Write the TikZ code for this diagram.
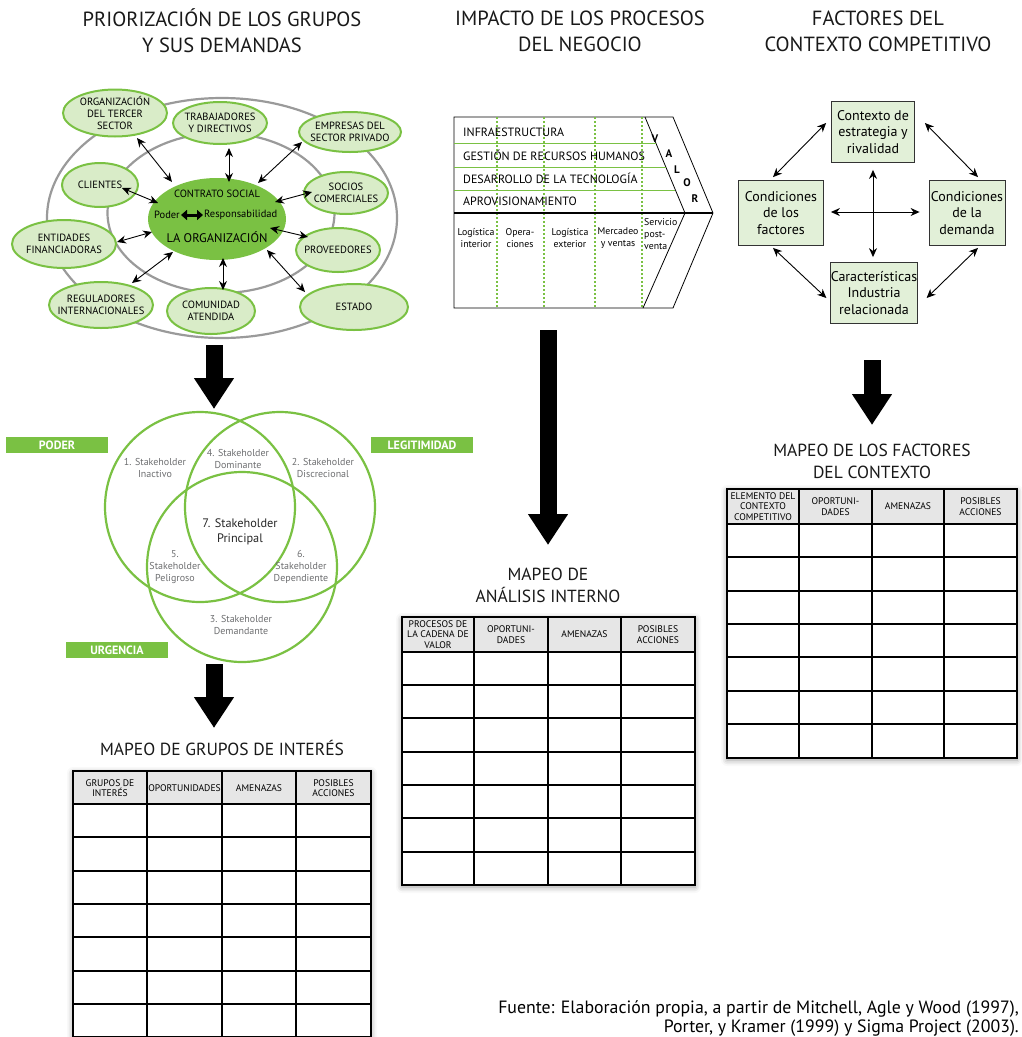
\documentclass[tikz,border=0pt]{standalone}
\usepackage{fontspec}
\setmainfont{PT Sans}
\usetikzlibrary{shapes.geometric,arrows.meta,positioning,calc,shadows.blur}

\definecolor{verde}{HTML}{7AC143}
\definecolor{verdeclaro}{HTML}{D9ECC8}
\definecolor{verdecaja}{HTML}{E2F0D8}
\definecolor{gris}{HTML}{9A9A9A}
\definecolor{griscab}{HTML}{E6E6E6}
\definecolor{textogris}{HTML}{6D6E70}

\begin{document}
\begin{tikzpicture}[x=1pt, y=-1pt,
    heading/.style={align=center, text=black!90, font=\fontsize{20.5}{26}\selectfont},
    maptitle/.style={align=center, text=black!90, font=\fontsize{17.5}{22}\selectfont},
    stake/.style={ellipse, draw=verde, fill=verdeclaro, line width=2pt, inner xsep=-7pt, inner ysep=-3pt, align=center, font=\fontsize{10.5}{12}\selectfont},
    ring/.style={ellipse, draw=gris, line width=2.2pt, inner sep=0pt},
    arrow/.style={<->, >={Stealth[length=9pt,width=8pt]}, line width=0.9pt},
    block/.style={line width=17pt, -{Triangle[width=38pt,length=31pt]}},
    chain/.style={anchor=west, inner sep=0pt, font=\fontsize{12}{12}\selectfont},
    activity/.style={align=center, inner sep=0pt, font=\fontsize{9.8}{12}\selectfont},
    letter/.style={inner sep=0pt, font=\bfseries\fontsize{11}{11}\selectfont},
    factor/.style={rectangle, draw=black!80, fill=verdecaja, thick, align=center, inner sep=0pt, font=\fontsize{14}{16.5}\selectfont},
    venn/.style={circle, draw=verde, line width=2.2pt, minimum size=190pt, inner sep=0pt},
    tag/.style={fill=verde, text=white, font=\bfseries\fontsize{12}{12}\selectfont, minimum width=102pt, minimum height=16pt, inner sep=0pt},
    zone/.style={align=center, text=textogris, font=\fontsize{10}{12.5}\selectfont},
    colhead/.style={align=center, inner sep=0pt, font=\fontsize{9.6}{10.5}\selectfont},
    cell/.style={line width=1.4pt},
    shade/.style={fill=white, blur shadow={shadow xshift=0pt, shadow yshift=-2pt, shadow blur radius=6pt}}
]
\useasboundingbox (0,0) rectangle (1021,1037);

% titulos
\node[heading] (tit1) at (222,31) {PRIORIZACIÓN DE LOS GRUPOS\\Y SUS DEMANDAS};
\node[heading] (tit2) at (580,31) {IMPACTO DE LOS PROCESOS\\DEL NEGOCIO};
\node[heading] (tit3) at (878,31) {FACTORES DEL\\CONTEXTO COMPETITIVO};

% grupos de interes
\node[ring, minimum width=350pt, minimum height=240pt] (outer) at (222,218) {};
\node[ring, minimum width=227pt, minimum height=160pt] (inner) at (221,213) {};

\node[ellipse, fill=verde, minimum width=138pt, minimum height=82pt] (org) at (217,219) {};
\node[font=\fontsize{10.5}{11}\selectfont] (contrato) at (217,194) {CONTRATO SOCIAL};
\node[font=\fontsize{10.5}{11}\selectfont, inner sep=0pt, anchor=east] (pod) at (180,215) {Poder};
\node[font=\fontsize{10.5}{11}\selectfont, inner sep=0pt, anchor=west] (resp) at (204,215) {Responsabilidad};
\node[font=\fontsize{12.5}{13}\selectfont] (laorg) at (217,237) {LA ORGANIZACIÓN};
\draw[line width=3pt, {Triangle[length=6pt,width=10pt]}-{Triangle[length=6pt,width=10pt]}] ([xshift=1pt]pod.east) -- ([xshift=-1pt]resp.west);

\node[stake, minimum width=104pt, minimum height=47pt] (tercer) at (115,113) {ORGANIZACIÓN\\DEL TERCER\\SECTOR};
\node[stake, minimum width=94pt, minimum height=42pt] (trabaj) at (220,123) {TRABAJADORES\\Y DIRECTIVOS};
\node[stake, minimum width=102pt, minimum height=40pt] (empresas) at (350,132) {EMPRESAS DEL\\SECTOR PRIVADO};
\node[stake, minimum width=76pt, minimum height=44pt] (clientes) at (100,185) {CLIENTES};
\node[stake, minimum width=84pt, minimum height=42pt] (socios) at (346,193) {SOCIOS\\COMERCIALES};
\node[stake, minimum width=104pt, minimum height=48pt] (entidades) at (64,244) {ENTIDADES\\FINANCIADORAS};
\node[stake, minimum width=84pt, minimum height=44pt] (proveed) at (338,250) {PROVEEDORES};
\node[stake, minimum width=104pt, minimum height=46pt] (regul) at (101,305) {REGULADORES\\INTERNACIONALES};
\node[stake, minimum width=88pt, minimum height=46pt] (comunidad) at (211,311) {COMUNIDAD\\ATENDIDA};
\node[stake, minimum width=108pt, minimum height=46pt] (estado) at (354,307) {ESTADO};

\draw[arrow] ($(tercer)+(22,25)$) -- ($(org)+(-45,-37)$);
\draw[arrow] ($(trabaj)+(9,25)$) -- ($(org)+(12,-37)$);
\draw[arrow] ($(empresas)+(-48,10)$) -- ($(org)+(41,-36)$);
\draw[arrow] ($(clientes)+(22,3)$) -- ($(org)+(-59,-16)$);
\draw[arrow] ($(socios)+(-34,-1)$) -- ($(org)+(58,-17)$);
\draw[arrow] ($(entidades)+(53,-2)$) -- ($(org)+(-65,13)$);
\draw[arrow] ($(proveed)+(-30,-13)$) -- ($(org)+(53,9)$);
\draw[arrow] ($(regul)+(31,-22)$) -- ($(org)+(-44,33)$);
\draw[arrow] ($(comunidad)+(12,-21)$) -- ($(org)+(6,39)$);
\draw[arrow] ($(estado)+(-49,-15)$) -- ($(org)+(50,31)$);

% cadena de valor
\draw[thick] (454,117) -- (673,117) -- (713,213) -- (673,308) -- (454,308) -- cycle;
\draw[thick] (645,117) -- (685,213) -- (643,308);
\draw[verde] (454,143) -- (656,143);
\draw[verde] (454,167) -- (666,167);
\draw[verde] (454,190) -- (675,190);
\draw[verde, line width=1.6pt, dash pattern=on 1.6pt off 2.4pt] (497,117) -- (497,308);
\draw[verde, line width=1.6pt, dash pattern=on 1.6pt off 2.4pt] (544,117) -- (544,308);
\draw[verde, line width=1.6pt, dash pattern=on 1.6pt off 2.4pt] (595,117) -- (595,308);
\draw[verde, line width=1.6pt, dash pattern=on 1.6pt off 2.4pt] (642,117) -- (642,308);
\draw[line width=2.5pt] (454,213) -- (713,213);

\node[chain] (infra) at (463,132) {INFRAESTRUCTURA};
\node[chain] (rrhh) at (463,155) {GESTIÓN DE RECURSOS HUMANOS};
\node[chain] (tecno) at (463,178) {DESARROLLO DE LA TECNOLOGÍA};
\node[chain] (aprov) at (463,201) {APROVISIONAMIENTO};

\node[letter] (lv) at (655,139) {V};
\node[letter] (la) at (669,154) {A};
\node[letter] (ll) at (677,170) {L};
\node[letter] (lo) at (687,183) {O};
\node[letter] (lr) at (695,199) {R};

\node[activity] (logint) at (476,238) {Logística\\interior};
\node[activity] (oper) at (520,238) {Opera-\\ciones};
\node[activity] (logext) at (570,238) {Logística\\exterior};
\node[activity] (merc) at (618,238) {Mercadeo\\y ventas};
\node[activity, align=left, anchor=north west] (serv) at (644,218) {Servicio\\post-\\venta};

% diamante de porter
\node[factor, minimum width=83pt, minimum height=61pt] (ctx) at (873,132) {Contexto de\\estrategia y\\rivalidad};
\node[factor, minimum width=85pt, minimum height=65pt] (fac) at (781,213) {Condiciones\\de los\\factores};
\node[factor, minimum width=76pt, minimum height=65pt] (dem) at (967,213) {Condiciones\\de la\\demanda};
\node[factor, minimum width=84pt, minimum height=61pt] (ind) at (874,293) {Características\\Industria\\relacionada};

\draw[arrow] ($(ctx.west)+(-5,-9)$) -- ($(fac.north)+(-8,-3)$);
\draw[arrow] ($(ctx.east)+(10,-9)$) -- ($(dem.north)+(11,-3)$);
\draw[arrow] ($(fac.south)+(-8,2)$) -- ($(ind.west)+(-4,5)$);
\draw[arrow] ($(dem.south)+(11,2)$) -- ($(ind.east)+(9,5)$);
\draw[arrow] ($(fac.east)+(7,-1)$) -- ($(dem.west)+(-9,-1)$);
\draw[arrow] ($(ctx.south)+(0,7)$) -- ($(ind.north)+(-1,-5)$);

% flechas grandes
\coordinate (a1s) at (214,345);
\coordinate (a1e) at (214,409);
\coordinate (a2s) at (548,330);
\coordinate (a2e) at (548,545);
\coordinate (a3s) at (872,360);
\coordinate (a3e) at (872,425);
\coordinate (a4s) at (214,664);
\coordinate (a4e) at (214,728);
\draw[block] (a1s) -- (a1e);
\draw[block] (a2s) -- (a2e);
\draw[block] (a3s) -- (a3e);
\draw[block] (a4s) -- (a4e);

% atributos de los stakeholders
\node[venn] (poder) at (200,507) {};
\node[venn] (legit) at (280,507) {};
\node[venn] (urg) at (242,567) {};
\node[tag] (tpoder) at (57,445) {PODER};
\node[tag] (tlegit) at (422,445) {LEGITIMIDAD};
\node[tag] (turg) at (117,650) {URGENCIA};

\node[zone] (z1) at (155,468) {1. Stakeholder\\Inactivo};
\node[zone] (z4) at (238,459) {4. Stakeholder\\Dominante};
\node[zone] (z2) at (323,468) {2. Stakeholder\\Discrecional};
\node[zone, text=black!85, font=\fontsize{12.3}{15}\selectfont] (z7) at (240,532) {7. Stakeholder\\Principal};
\node[zone, font=\fontsize{10}{12}\selectfont] (z5) at (175,567) {5.\\Stakeholder\\Peligroso};
\node[zone, font=\fontsize{10}{12}\selectfont] (z6) at (301,567) {6.\\Stakeholder\\Dependiente};
\node[zone] (z3) at (241,625) {3. Stakeholder\\Demandante};

% tablas de mapeo
\node[maptitle] (map1) at (222,748) {MAPEO DE GRUPOS DE INTERÉS};
\node[maptitle] (map2) at (548,585) {MAPEO DE\\ANÁLISIS INTERNO};
\node[maptitle] (map3) at (872,461) {MAPEO DE LOS FACTORES\\DEL CONTEXTO};

\fill[shade] (73,771) rectangle (371,1037);
\fill[griscab] (73,771) rectangle (371,804);
\foreach \x in {147,222,296} \draw[cell] (\x,771) -- (\x,1037);
\foreach \y in {804,837,871,904,937,971,1004} \draw[cell] (73,\y) -- (371,\y);
\draw[cell] (73,771) rectangle (371,1037);
\node[colhead] (g1) at (110,788) {GRUPOS DE\\INTERÉS};
\node[colhead] (g2) at (184.5,788) {OPORTUNIDADES};
\node[colhead] (g3) at (259,788) {AMENAZAS};
\node[colhead] (g4) at (333.5,788) {POSIBLES\\ACCIONES};

\fill[shade] (402,617) rectangle (695,885);
\fill[griscab] (402,617) rectangle (695,652);
\foreach \x in {474,548,621} \draw[cell] (\x,617) -- (\x,885);
\foreach \y in {652,685,718,752,785,818,852} \draw[cell] (402,\y) -- (695,\y);
\draw[cell] (402,617) rectangle (695,885);
\node[colhead] (p1) at (438,634.5) {PROCESOS DE\\LA CADENA DE\\VALOR};
\node[colhead] (p2) at (511,634.5) {OPORTUNI-\\DADES};
\node[colhead] (p3) at (584.5,634.5) {AMENAZAS};
\node[colhead] (p4) at (658,634.5) {POSIBLES\\ACCIONES};

\fill[shade] (727,489) rectangle (1017,758);
\fill[griscab] (727,489) rectangle (1017,524);
\foreach \x in {799,872,944} \draw[cell] (\x,489) -- (\x,758);
\foreach \y in {524,557,591,624,657,691,724} \draw[cell] (727,\y) -- (1017,\y);
\draw[cell] (727,489) rectangle (1017,758);
\node[colhead] (e1) at (763,506.5) {ELEMENTO DEL\\CONTEXTO\\COMPETITIVO};
\node[colhead] (e2) at (835.5,506.5) {OPORTUNI-\\DADES};
\node[colhead] (e3) at (908,506.5) {AMENAZAS};
\node[colhead] (e4) at (980.5,506.5) {POSIBLES\\ACCIONES};

% fuente
\node[anchor=north east, align=right, inner sep=0pt, font=\fontsize{17.8}{19.5}\selectfont] (fuente) at (1019,1000) {Fuente: Elaboración propia, a partir de Mitchell, Agle y Wood (1997),\\Porter, y Kramer (1999) y Sigma Project (2003).};
\end{tikzpicture}
\end{document}
